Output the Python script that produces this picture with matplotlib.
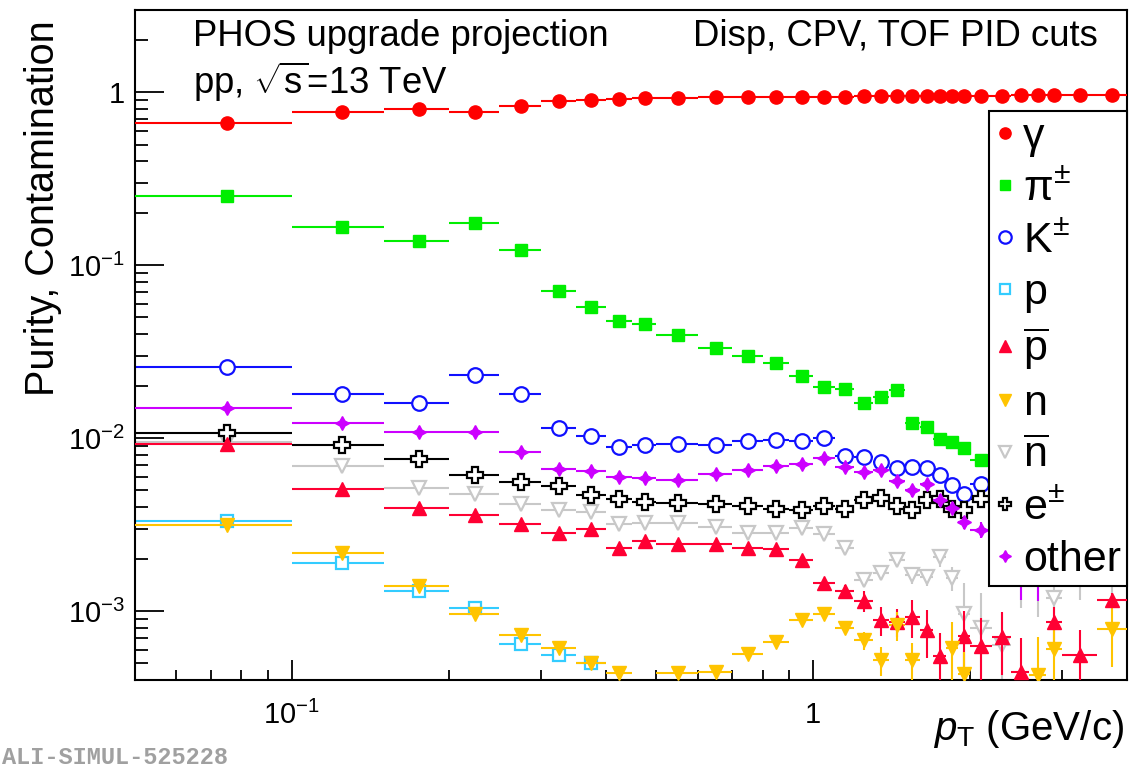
import numpy as np
import matplotlib
matplotlib.use("Agg")
import matplotlib.pyplot as plt

plt.rcParams['font.family'] = ['Liberation Sans', 'DejaVu Sans']
plt.rcParams['mathtext.fontset'] = 'custom'
plt.rcParams['mathtext.rm'] = 'Liberation Sans'
plt.rcParams['mathtext.it'] = 'Liberation Sans:italic'
plt.rcParams['mathtext.bf'] = 'Liberation Sans:bold'

nan = np.nan

# pT binning (GeV/c)
pt_edges = [0.05, 0.1, 0.15, 0.2, 0.25, 0.3, 0.35, 0.4, 0.45, 0.5, 0.6, 0.7, 0.8, 0.9,
            1.0, 1.1, 1.2, 1.3, 1.4, 1.5, 1.6, 1.7, 1.8, 1.9, 2.0, 2.2, 2.4, 2.6, 2.8,
            3.0, 3.5, 4.0]

# purity / contamination per species
gamma_y = [0.665, 0.77, 0.80, 0.77, 0.83, 0.89, 0.91, 0.92, 0.93, 0.93, 0.94, 0.94, 0.94,
           0.94, 0.945, 0.945, 0.95, 0.95, 0.95, 0.955, 0.955, 0.955, 0.955, 0.96, 0.96,
           0.96, 0.965, 0.965, 0.965, 0.97, 0.97]
pi_y = [0.252, 0.166, 0.138, 0.176, 0.122, 0.0708, 0.0574, 0.0477, 0.0460, 0.0397, 0.0333,
        0.0299, 0.0274, 0.0228, 0.0198, 0.0194, 0.0159, 0.0173, 0.0189, 0.0123, 0.0116,
        0.00996, 0.00952, 0.00884, 0.00746, 0.00611, nan, nan, nan, nan, nan]
k_y = [0.0257, 0.0181, 0.0159, 0.0231, 0.0181, 0.0114, 0.0103, 0.00891, 0.00912, 0.00932,
       0.00912, 0.00961, 0.00983, 0.00961, 0.0100, 0.00787, 0.00780, 0.00730, 0.00677,
       0.00683, 0.00677, 0.00611, 0.00540, 0.00474, 0.00546, 0.00434, nan, nan, nan, nan, nan]
p_y = [0.00332, 0.00189, 0.00130, 0.00105, 0.000645, 0.000557, 0.000503] + [nan] * 24
pbar_y = [0.00929, 0.00512, 0.00396, 0.00359, 0.00318, 0.00282, 0.00297, 0.00232, 0.00255,
          0.00244, 0.00244, 0.00233, 0.00230, 0.00197, 0.00146, 0.00131, 0.00115, 0.000887,
          0.000867, 0.000927, 0.000776, 0.000549, nan, 0.000717, 0.000628, 0.000708,
          0.000444, nan, 0.000864, 0.000557, 0.00116]
n_y = [0.00317, 0.00216, 0.00140, 0.000957, 0.000726, 0.000609, 0.000499, 0.000442, nan,
       0.000438, 0.000443, 0.000564, 0.000662, 0.000887, 0.000962, 0.000797, 0.000680,
       0.000521, 0.000830, 0.000521, nan, nan, 0.000611, 0.000432, nan, nan, nan,
       0.000427, 0.000603, nan, 0.000787]
nbar_y = [0.00954, 0.00692, 0.00516, 0.00479, 0.00415, 0.00384, 0.00373, 0.00318, 0.00323,
          0.00325, 0.00307, 0.00282, 0.00282, 0.00301, 0.00279, 0.00231, 0.00151, 0.00166,
          0.00197, 0.00161, 0.00158, 0.00205, 0.00155, 0.000962, 0.000798, 0.000636,
          0.0017, 0.0016, 0.00120, 0.0018, 0.0017]
e_y = [0.0108, 0.00920, 0.00757, 0.00617, 0.00559, 0.00528, 0.00468, 0.00448, 0.00428,
       0.00422, 0.00415, 0.00404, 0.00392, 0.00384, 0.00407, 0.00392, 0.00438, 0.00454,
       0.00407, 0.00384, 0.00438, 0.00448, 0.00392, 0.00387, 0.00448, 0.00408,
       nan, nan, nan, nan, nan]
other_y = [0.0150, 0.0123, 0.0109, 0.0109, 0.00834, 0.00668, 0.00645, 0.00597, 0.00589,
           0.00577, 0.00625, 0.00653, 0.00689, 0.00714, 0.00773, 0.00683, 0.00638, 0.00659,
           0.00564, 0.00500, 0.00542, 0.00438, 0.00394, 0.00327, 0.00296, 0.00268, 0.0022,
           0.0020, nan, nan, nan]

# statistical errors
gamma_err = [0] * 31
pi_err = [0] * 19 + [0.0005] * 7 + [0] * 5
k_err = [0] * 21 + [0.0002, 0.0002, 0.0003, 0.0002, 0.0003, 0, 0, 0, 0, 0]
p_err = [0] * 31
pbar_err = [0] * 15 + [0.00011, 0.00016, 0.00017, 0.00016, 0.00023, 0.00024, 0.00020, 0,
                       0.00028, 0.00028, 0.00028, 0.00026, 0, 0.00020, 0.00022, 0.00012]
n_err = [0] * 15 + [0.00006, 0.00008, 0.00010, 0.00016, 0.00013, 0, 0, 0.00025, 0.00015,
                    0, 0, 0, 0.00028, 0.00029, 0, 0.00031]
nbar_err = [0] * 15 + [0.00010, 0.00012, 0.00013, 0.00016, 0.00018, 0.00018, 0.00024,
                       0.00025, 0.00050, 0.00047, 0.00034, 0.00065, 0.00068, 0.00035,
                       0.00064, 0.0005]
e_err = [0] * 19 + [0.0002, 0.0003, 0.0003, 0.0004, 0.0006, 0.0004, 0.0004, 0, 0, 0, 0, 0]
other_err = [0] * 16 + [0.0002, 0.0002, 0.0003, 0.0004, 0.0004, 0.0004, 0.0003, 0.0003,
                        0.0003, 0.0004, 0.00104, 0.00085, 0, 0, 0]

edges = np.array(pt_edges)
pt = 0.5 * (edges[1:] + edges[:-1])
pt_err = 0.5 * (edges[1:] - edges[:-1])

# label, values, errors, marker, colour, filled, marker size
species = [
    ('γ', gamma_y, gamma_err, 'o', '#ff0000', True, 9.5),
    (r'π$^{\pm}$', pi_y, pi_err, 's', '#00ee00', True, 9),
    (r'K$^{\pm}$', k_y, k_err, 'o', '#1010ff', False, 10.5),
    ('p', p_y, p_err, 's', '#33ccff', False, 9),
    (r'$\overline{\mathrm{p}}$', pbar_y, pbar_err, '^', '#ff0033', True, 10),
    ('n', n_y, n_err, 'v', '#ffc400', True, 10),
    (r'$\overline{\mathrm{n}}$', nbar_y, nbar_err, 'v', '#c8c8c8', False, 10),
    (r'e$^{\pm}$', e_y, e_err, 'P', '#000000', False, 11),
    ('other', other_y, other_err, (4, 1, 0), '#cc00ff', True, 10),
]

fig = plt.figure(figsize=(11.4, 7.67), dpi=100)
ax = fig.add_axes([135 / 1140, 87 / 767, 992 / 1140, 670 / 767])
ax.set_xscale('log')
ax.set_yscale('log')
ax.set_xlim(0.05, 4.0)
ax.set_ylim(4e-4, 3.0)

handles = []
for label, vals, errs, mk, col, filled, ms in species:
    # open markers sit underneath the filled ones
    z = 2.2 if not filled else 2.6
    cont = ax.errorbar(pt, vals, xerr=pt_err, yerr=errs, fmt='', marker=mk,
                       linestyle='none', color=col, ecolor=col,
                       elinewidth=1.5, capsize=0, ms=ms,
                       mfc=col if filled else 'white', mec=col,
                       mew=1.0 if filled else 1.6, zorder=z)
    handles.append((cont[0], label))

for s in ax.spines.values():
    s.set_linewidth(1.5)
ax.tick_params(which='both', direction='in', top=False, right=False, width=1.3,
               labelsize=21, colors='black')
ax.tick_params(axis='y', which='major', length=21, pad=7)
ax.tick_params(axis='y', which='minor', length=9.5)
ax.tick_params(axis='x', which='major', length=14.5, pad=15)
ax.tick_params(axis='x', which='minor', length=7.5)
ax.set_xticks([0.1, 1.0])
ax.set_xticklabels([r'$10^{-1}$', '1'])
ax.set_yticks([1e-3, 1e-2, 1e-1, 1.0])
ax.set_yticklabels([r'$10^{-3}$', r'$10^{-2}$', r'$10^{-1}$', '1'])
ax.xaxis.set_minor_formatter(matplotlib.ticker.NullFormatter())
ax.yaxis.set_minor_formatter(matplotlib.ticker.NullFormatter())

ax.set_ylabel('Purity, Contamination', fontsize=28.5, loc='top')
ax.yaxis.set_label_coords(-0.074, 0.985)
ax.set_xlabel(r'$p_{\mathrm{T}}$ (GeV/c)', fontsize=29, loc='right')
ax.xaxis.set_label_coords(0.997, -0.042)

ax.text(0.0585, 0.946, 'PHOS upgrade projection', transform=ax.transAxes,
        fontsize=26.3, va='baseline', ha='left')
ax.text(0.0585, 0.875, r'pp, $\sqrt{\mathrm{s}}$=13 TeV', transform=ax.transAxes,
        fontsize=26.3, va='baseline', ha='left')
ax.text(0.971, 0.946, 'Disp, CPV, TOF PID cuts', transform=ax.transAxes,
        fontsize=26.3, va='baseline', ha='right')

leg = ax.legend([h for h, _ in handles], [l for _, l in handles], loc='upper right',
                bbox_to_anchor=(1.0, 0.849), fontsize=31, frameon=True, fancybox=False,
                framealpha=1.0, edgecolor='black', borderpad=0.14, labelspacing=0.28,
                handlelength=0.45, handletextpad=0.2, borderaxespad=0.0, markerscale=0.85)
leg.get_frame().set_linewidth(1.5)

fig.text(0.002, 0.004, 'ALI-SIMUL-525228', fontsize=17, color='#a0a0a0',
         family='Liberation Mono', fontweight='bold', va='baseline', ha='left')

fig.savefig('out.png', dpi=100)
